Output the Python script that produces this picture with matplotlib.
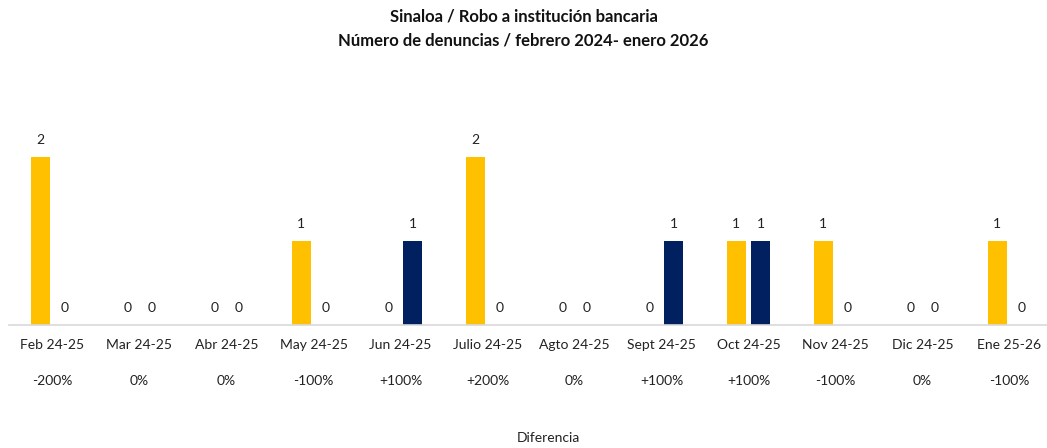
import numpy as np
import matplotlib.pyplot as plt

plt.rcParams['font.family'] = ['Lato', 'DejaVu Sans']

#data
months = ["Feb 24-25", "Mar 24-25", "Abr 24-25", "May 24-25", "Jun 24-25", "Julio 24-25",
          "Agto 24-25", "Sept 24-25", "Oct 24-25", "Nov 24-25", "Dic 24-25", "Ene 25-26"]
first_year = [2, 0, 0, 1, 0, 2, 0, 0, 1, 1, 0, 1]
second_year = [0, 0, 0, 0, 1, 0, 0, 1, 1, 0, 0, 0]
diffs = ["-200%", "0%", "0%", "-100%", "+100%", "+200%", "0%", "+100%", "+100%", "-100%", "0%", "-100%"]

yellow = "#FFC000"
navy = "#002060"

fig = plt.figure(figsize=(10.47, 4.48), dpi=100)
#axes placed in pixels: category 0 center at x=52.5, spacing ~87px
px_w, px_h = 1047, 448
left_px, span_px = 9, 12 * 87.0
ax = fig.add_axes([left_px / px_w, 123 / px_h, span_px / px_w, 210 / px_h])

x = np.arange(len(months))
w = 0.22
off = 0.14
bars1 = ax.bar(x - off, first_year, w, color=yellow)
bars2 = ax.bar(x + off, second_year, w, color=navy)

#value labels above each bar
for bars, vals in [(bars1, first_year), (bars2, second_year)]:
    for b, v in zip(bars, vals):
        ax.annotate(str(v), (b.get_x() + b.get_width() / 2, v), xytext=(0, 8),
                    textcoords="offset points", ha="center", va="bottom", fontsize=10,
                    color="#222222")

ax.set_xlim(-0.5, len(months) - 0.5)
ax.set_ylim(0, 2.5)
ax.set_yticks([])
ax.set_xticks(x)
ax.set_xticklabels(months, fontsize=10, color="#222222")
ax.tick_params(axis="x", length=0, pad=10)
for s in ["top", "right", "left"]:
    ax.spines[s].set_visible(False)
ax.spines["bottom"].set_color("#d9d9d9")
ax.spines["bottom"].set_linewidth(1.2)

#percent change row under the month labels
for xi, d in zip(x, diffs):
    ax.annotate(d, (xi, 0), xytext=(0, -40), textcoords="offset points",
                ha="center", va="center", fontsize=10, color="#222222")

fig.text(548 / px_w, 1 - 438 / px_h, "Diferencia", ha="center", va="center",
         fontsize=10, color="#222222")
fig.text(0.5, 1 - 17 / px_h, "Sinaloa / Robo a institución bancaria", ha="center",
         va="center", fontsize=12, fontweight="bold", color="#111111")
fig.text(0.5, 1 - 41 / px_h, "Número de denuncias / febrero 2024- enero 2026", ha="center",
         va="center", fontsize=12, fontweight="bold", color="#111111")

fig.savefig("out.png", dpi=100)
